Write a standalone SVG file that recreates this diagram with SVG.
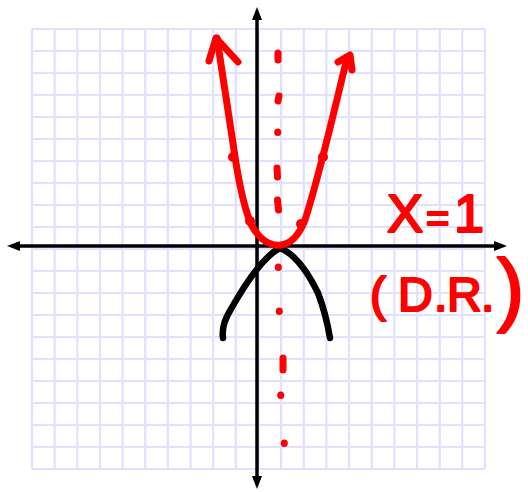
<svg xmlns="http://www.w3.org/2000/svg" width="528" height="492" viewBox="0 0 528 492">
<defs>
<style>
.grid line{stroke:#e0e0ff;stroke-width:2.2}
.axis{stroke:#000;stroke-width:3.5;fill:none}
.head{fill:#000}
.red{stroke:#ff0000;stroke-width:7;fill:none;stroke-linecap:round;stroke-linejoin:round}
.blk{stroke:#000;stroke-width:6.5;fill:none;stroke-linecap:round;stroke-linejoin:round}
.dash{stroke:#ff0000;stroke-width:7;stroke-linecap:round}
.lbl{font-family:"Liberation Sans",Arial,sans-serif;fill:#ff0000;stroke:#ff0000;stroke-width:2.2;stroke-linejoin:round}
</style>
</defs>
<rect width="528" height="492" fill="#fff"/>
<g id="grid" class="grid">
<line x1="32" y1="29" x2="32" y2="469"/><line x1="54.65" y1="29" x2="54.65" y2="469"/><line x1="77.3" y1="29" x2="77.3" y2="469"/><line x1="99.95" y1="29" x2="99.95" y2="469"/><line x1="122.6" y1="29" x2="122.6" y2="469"/><line x1="145.25" y1="29" x2="145.25" y2="469"/><line x1="167.9" y1="29" x2="167.9" y2="469"/><line x1="190.55" y1="29" x2="190.55" y2="469"/><line x1="213.2" y1="29" x2="213.2" y2="469"/><line x1="235.85" y1="29" x2="235.85" y2="469"/><line x1="258.5" y1="29" x2="258.5" y2="469"/><line x1="281.15" y1="29" x2="281.15" y2="469"/><line x1="303.8" y1="29" x2="303.8" y2="469"/><line x1="326.45" y1="29" x2="326.45" y2="469"/><line x1="349.1" y1="29" x2="349.1" y2="469"/><line x1="371.75" y1="29" x2="371.75" y2="469"/><line x1="394.4" y1="29" x2="394.4" y2="469"/><line x1="417.05" y1="29" x2="417.05" y2="469"/><line x1="439.7" y1="29" x2="439.7" y2="469"/><line x1="462.35" y1="29" x2="462.35" y2="469"/><line x1="485" y1="29" x2="485" y2="469"/>
<line x1="32" y1="29" x2="485" y2="29"/><line x1="32" y1="51" x2="485" y2="51"/><line x1="32" y1="73" x2="485" y2="73"/><line x1="32" y1="95" x2="485" y2="95"/><line x1="32" y1="117" x2="485" y2="117"/><line x1="32" y1="139" x2="485" y2="139"/><line x1="32" y1="161" x2="485" y2="161"/><line x1="32" y1="183" x2="485" y2="183"/><line x1="32" y1="205" x2="485" y2="205"/><line x1="32" y1="227" x2="485" y2="227"/><line x1="32" y1="249" x2="485" y2="249"/><line x1="32" y1="271" x2="485" y2="271"/><line x1="32" y1="293" x2="485" y2="293"/><line x1="32" y1="315" x2="485" y2="315"/><line x1="32" y1="337" x2="485" y2="337"/><line x1="32" y1="359" x2="485" y2="359"/><line x1="32" y1="381" x2="485" y2="381"/><line x1="32" y1="403" x2="485" y2="403"/><line x1="32" y1="425" x2="485" y2="425"/><line x1="32" y1="447" x2="485" y2="447"/><line x1="32" y1="469" x2="485" y2="469"/>
</g>
<g id="axes">
<line class="axis" x1="14" y1="246" x2="500" y2="246"/>
<line class="axis" x1="257" y1="14" x2="257" y2="482"/>
<polygon class="head" points="7,246 20,241 20,251"/>
<polygon class="head" points="507,246 494,241 494,251"/>
<polygon class="head" points="257,7 252,20 262,20"/>
<polygon class="head" points="257,489 252,476 262,476"/>
</g>
<g id="black-parabola">
<path class="blk" d="M223,338 Q221,325 231,309 Q260,258 280,248 Q300,256 318,293 Q326,314 330,338"/>
</g>
<g id="red-parabola">
<path class="red" d="M217,38 L234,150 Q242,205 252,226 Q264,247 281,245 Q296,243 305,220 Q318,180 346,62"/>
<polyline class="red" points="209,61 216,38 238,62"/>
<polyline class="red" points="338,62 350,55 352,70"/>
<circle cx="233" cy="157" r="5" fill="#ff0000"/>
<circle cx="323" cy="157" r="5" fill="#ff0000"/>
<circle cx="250" cy="221" r="5" fill="#ff0000"/>
<circle cx="301" cy="224" r="5" fill="#ff0000"/>
</g>
<g id="axis-of-symmetry">
<line class="dash" x1="278" y1="53" x2="278" y2="60"/>
<line class="dash" x1="279" y1="96" x2="278" y2="101"/>
<line class="dash" x1="277.7" y1="132" x2="277.7" y2="132.5"/>
<line class="dash" x1="277" y1="168" x2="277.5" y2="177"/>
<line class="dash" x1="277.5" y1="200" x2="278.5" y2="210"/>
<line class="dash" x1="278.3" y1="267" x2="278.3" y2="267.5"/>
<line class="dash" x1="279.3" y1="311" x2="279.3" y2="311.5"/>
<line class="dash" x1="283" y1="358" x2="283" y2="370"/>
<line class="dash" x1="280.7" y1="395" x2="280.7" y2="395.5"/>
<line class="dash" x1="284.3" y1="443" x2="284.3" y2="443.5"/>
</g>
<g id="label">
<text class="lbl" font-size="54" y="232"><tspan x="387">X</tspan><tspan x="426" font-size="40">=</tspan><tspan x="454">1</tspan></text>
<text class="lbl" font-size="48" y="311"><tspan x="370">(</tspan><tspan x="398">D</tspan><tspan x="434">.</tspan><tspan x="447">R</tspan><tspan x="481">.</tspan><tspan x="497" y="316" font-size="82">)</tspan></text>
</g>
</svg>
